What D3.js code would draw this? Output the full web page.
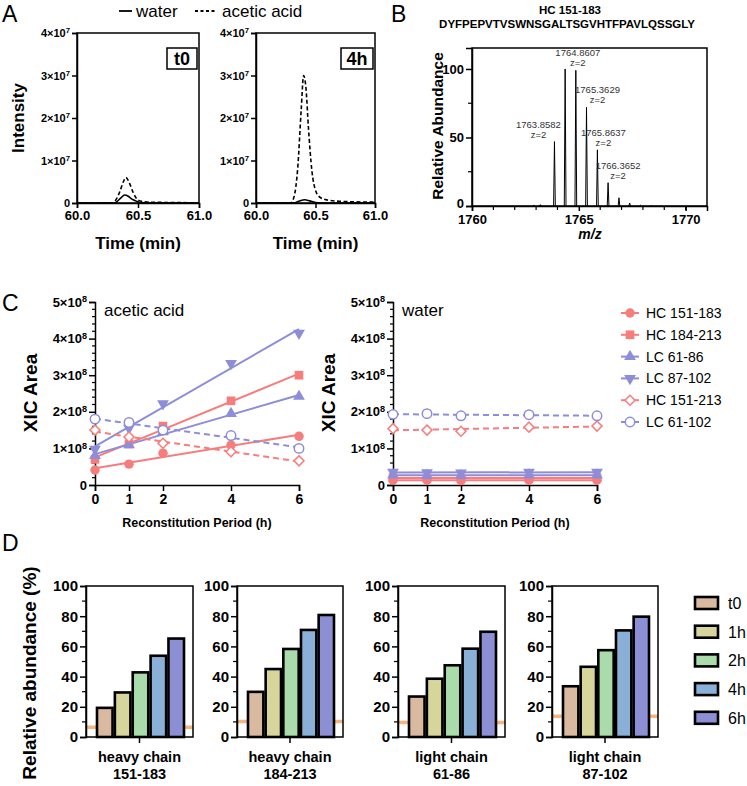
<!DOCTYPE html>
<html>
<head>
<meta charset="utf-8">
<script src="https://cdn.jsdelivr.net/npm/d3@7"></script>
<style>
  body { margin: 0; background: #fff; }
  svg { font-family: "Liberation Sans", Arial, sans-serif; }
</style>
</head>
<body>
<svg id="fig" width="747" height="786"></svg>
<script>
// ---------- data ----------
// panel A: chromatogram traces, [time (min), intensity x1e6]
const t0Water = [[60.0,0],[60.30,0],[60.33,0.4],[60.36,1.2],[60.39,1.9],[60.42,1.6],[60.45,0.9],[60.48,0.5],[60.52,0.1],[60.6,0],[61.0,0]];
const t0Acetic = [[60.0,0],[60.29,0],[60.32,0.8],[60.35,2.6],[60.38,5.0],[60.40,6.0],[60.43,4.7],[60.46,2.5],[60.49,1.0],[60.53,0.4],[60.6,0.2],[60.8,0.1],[61.0,0.05]];
const h4Water = [[60.0,0],[60.32,0],[60.36,0.4],[60.41,0.75],[60.45,0.5],[60.5,0.1],[60.55,0],[61.0,0]];
const h4Acetic = [[60.0,0],[60.29,0],[60.32,1.5],[60.35,8],[60.38,22],[60.40,30],[60.42,27],[60.44,18],[60.47,7.5],[60.50,3],[60.54,1.3],[60.6,0.7],[60.7,0.4],[60.8,0.3],[61.0,0.2]];

// panel B: isotope peaks
const peakMz = [1762.9, 1763.2, 1763.86, 1764.36, 1764.86, 1765.36, 1765.87, 1766.37, 1766.88, 1767.38, 1767.88, 1768.4];
const peakAbund = [0.4, 1, 47, 100, 99, 72, 41, 17, 6, 2.2, 0.6, 0.3];
const peakNames = ["1763.8582", "1764.8607", "1765.3629", "1765.8637", "1766.3652"];
const peakNamed = [2, 4, 5, 6, 7]; // which peaks carry a label
const labelDx = [-16, 2, 11, 6, 10];

// panel C: XIC area x1e8
const hours = [0, 1, 2, 4, 6];
const peptides = ["HC 151-183", "HC 184-213", "LC 61-86", "LC 87-102", "HC 151-213", "LC 61-102"];
const aceticHC151 = [0.41, 0.57, 0.87, 1.09, 1.33];
const aceticHC184 = [0.70, 1.12, 1.61, 2.30, 3.00];
const aceticLC61 = [0.80, 1.10, 1.45, 1.95, 2.42];
const aceticLC87 = [0.98, 1.55, 2.22, 3.32, 4.15];
const aceticHC151_213 = [1.50, 1.31, 1.14, 0.91, 0.66];
const aceticLC61_102 = [1.80, 1.71, 1.50, 1.35, 1.00];
const waterHC151 = [0.13, 0.13, 0.12, 0.13, 0.13];
const waterHC184 = [0.20, 0.19, 0.18, 0.19, 0.20];
const waterLC61 = [0.27, 0.26, 0.26, 0.27, 0.27];
const waterLC87 = [0.35, 0.34, 0.33, 0.35, 0.35];
const waterHC151_213 = [1.54, 1.50, 1.47, 1.58, 1.61];
const waterLC61_102 = [1.93, 1.95, 1.89, 1.92, 1.89];

// panel D: relative abundance (%)
const timepoints = ["t0", "1h", "2h", "4h", "6h"];
const regionNames = [["heavy chain", "151-183"], ["heavy chain", "184-213"], ["light chain", "61-86"], ["light chain", "87-102"]];
const relHC151 = [19.3, 29.5, 42.8, 53.8, 65.2];
const relHC184 = [29.9, 45.0, 58.3, 70.9, 80.8];
const relLC61 = [26.8, 38.6, 47.5, 58.5, 69.7];
const relLC87 = [33.6, 46.5, 57.5, 70.6, 79.7];
const controlLevel = [6.5, 10.2, 9.6, 13.8];

// ---------- drawing ----------
const svg = d3.select("#fig");
const RED = "#f77d7d", BLUE = "#8d8dd9", ORANGE = "#f8b47c";
const barColors = ["#d9b9a0", "#d6d59b", "#a9dcaa", "#8bb0d7", "#8c8fd3"];

function styleAxis(g, size) {
  g.selectAll("path, line").attr("stroke", "#000").attr("stroke-width", 1.5);
  g.selectAll("text").attr("fill", "#000").attr("font-weight", "bold").attr("font-size", size);
}

function sciLabels(g, exp) {
  g.selectAll(".tick text").each(function (d) {
    const t = d3.select(this);
    t.text(null);
    if (d === 0) { t.text("0"); return; }
    t.append("tspan").text(Math.round(d / Math.pow(10, exp)) + "×10");
    t.append("tspan").attr("dy", "-0.5em").attr("font-size", "0.7em").text(exp);
  });
}

function minorTicks(g, scale, values, len, vertical) {
  g.selectAll(null).data(values).join("line")
    .attr("x1", d => vertical ? 0 : scale(d)).attr("x2", d => vertical ? -len : scale(d))
    .attr("y1", d => vertical ? scale(d) : 0).attr("y2", d => vertical ? scale(d) : len)
    .attr("stroke", "#000").attr("stroke-width", 1.2);
}

function panelLetter(t, x, y) {
  svg.append("text").attr("x", x).attr("y", y).attr("font-size", 23).text(t);
}

// ----- Panel A -----
panelLetter("A", 2, 22);
const legA = svg.append("g");
legA.append("line").attr("x1", 119).attr("x2", 132).attr("y1", 11).attr("y2", 11).attr("stroke", "#000").attr("stroke-width", 1.8);
legA.append("text").attr("x", 136).attr("y", 17).attr("font-size", 17).text("water");
legA.append("line").attr("x1", 195).attr("x2", 215).attr("y1", 11).attr("y2", 11).attr("stroke", "#000").attr("stroke-width", 1.8).attr("stroke-dasharray", "3,2.5");
legA.append("text").attr("x", 222).attr("y", 17).attr("font-size", 17).text("acetic acid");

const yA = d3.scaleLinear().domain([0, 4e7]).range([203, 33]);
[[77, 199, t0Water, t0Acetic, "t0"], [256, 375, h4Water, h4Acetic, "4h"]].forEach(([x0, x1, wat, ace, tag]) => {
  const x = d3.scaleLinear().domain([60, 61]).range([x0, x1]);
  const line = d3.line().x(d => x(d[0])).y(d => yA(d[1] * 1e6)).curve(d3.curveMonotoneX);
  svg.append("path").attr("d", line(ace)).attr("fill", "none").attr("stroke", "#000").attr("stroke-width", 1.6).attr("stroke-dasharray", "4,2.5");
  svg.append("path").attr("d", line(wat)).attr("fill", "none").attr("stroke", "#000").attr("stroke-width", 1.6);
  svg.append("rect").attr("x", x0).attr("y", 33).attr("width", x1 - x0).attr("height", 170)
    .attr("fill", "none").attr("stroke", "#000").attr("stroke-width", 1.5);
  const gy = svg.append("g").attr("transform", `translate(${x0},0)`)
    .call(d3.axisLeft(yA).tickValues([0, 1e7, 2e7, 3e7, 4e7]).tickSize(5).tickPadding(2));
  styleAxis(gy, 11); sciLabels(gy, 7);
  const gx = svg.append("g").attr("transform", "translate(0,203)")
    .call(d3.axisBottom(x).tickValues([60, 60.5, 61]).tickFormat(d3.format(".1f")).tickSize(5).tickPadding(3));
  styleAxis(gx, 13);
  svg.append("text").attr("x", (x0 + x1) / 2).attr("y", 249).attr("text-anchor", "middle")
    .attr("font-size", 17).attr("font-weight", "bold").text("Time (min)");
  const bw = tag === "t0" ? 30 : 32;
  svg.append("rect").attr("x", x1 - 2 - bw).attr("y", 48).attr("width", bw).attr("height", 21)
    .attr("fill", "#fff").attr("stroke", "#000").attr("stroke-width", 1.5);
  svg.append("text").attr("x", x1 - 2 - bw / 2).attr("y", 65).attr("text-anchor", "middle")
    .attr("font-size", 18).attr("font-weight", "bold").text(tag);
});
svg.append("text").attr("transform", "translate(24,118) rotate(-90)").attr("text-anchor", "middle")
  .attr("font-size", 17).attr("font-weight", "bold").text("Intensity");

// ----- Panel B -----
panelLetter("B", 391, 22);
svg.append("text").attr("x", 570).attr("y", 14).attr("text-anchor", "middle").attr("font-size", 11.5).attr("font-weight", "bold").text("HC 151-183");
svg.append("text").attr("x", 567).attr("y", 28).attr("text-anchor", "middle").attr("font-size", 11.5).attr("font-weight", "bold").text("DYFPEPVTVSWNSGALTSGVHTFPAVLQSSGLY");
const xB = d3.scaleLinear().domain([1760, 1771]).range([472, 707]);
const yB = d3.scaleLinear().domain([0, 115.3]).range([206, 48]);
svg.append("g").selectAll("path").data(peakMz).join("path")
  .attr("d", (m, i) => `M${xB(m - 0.04)},${yB(0)}L${xB(m)},${yB(peakAbund[i])}L${xB(m + 0.04)},${yB(0)}`)
  .attr("fill", "none").attr("stroke", "#000").attr("stroke-width", 1);
peakNamed.forEach((pi, k) => {
  const px = xB(peakMz[pi]) + labelDx[k], py = yB(peakAbund[pi]) - 4;
  svg.append("text").attr("x", px).attr("y", py - 10).attr("text-anchor", "middle").attr("font-size", 9.5).attr("fill", "#333").text(peakNames[k]);
  svg.append("text").attr("x", px).attr("y", py).attr("text-anchor", "middle").attr("font-size", 9.5).attr("fill", "#333").text("z=2");
});
svg.append("rect").attr("x", 472).attr("y", 48).attr("width", 235).attr("height", 158)
  .attr("fill", "none").attr("stroke", "#000").attr("stroke-width", 1.5);
const gyB = svg.append("g").attr("transform", "translate(472,0)")
  .call(d3.axisLeft(yB).tickValues([0, 50, 100]).tickSize(6).tickPadding(2));
styleAxis(gyB, 13);
gyB.selectAll(".tick text").filter(d => d === 0).attr("dy", "0.1em");
minorTicks(gyB, yB, [25, 75], 4, true);
const gxB = svg.append("g").attr("transform", "translate(0,206)")
  .call(d3.axisBottom(xB).tickValues([1760, 1765, 1770]).tickFormat(d3.format("d")).tickSize(5).tickPadding(4));
styleAxis(gxB, 13);
minorTicks(gxB, xB, d3.range(1761, 1771).filter(v => v !== 1765), 4, false);
svg.append("text").attr("x", 590).attr("y", 239).attr("text-anchor", "middle").attr("font-size", 14)
  .attr("font-weight", "bold").attr("font-style", "italic").text("m/z");
svg.append("text").attr("transform", "translate(443,126) rotate(-90)").attr("text-anchor", "middle")
  .attr("font-size", 15.5).attr("font-weight", "bold").text("Relative Abundance");

// ----- Panel C -----
panelLetter("C", 2, 311);
const yC = d3.scaleLinear().domain([0, 5e8]).range([485, 302]);
const symbols = [d3.symbolCircle, d3.symbolSquare, d3.symbolTriangle, d3.symbolTriangle, d3.symbolSquare, d3.symbolCircle];
const symRot = [0, 0, 0, 180, 45, 0];
const symSize = [70, 75, 60, 60, 50, 70];
const seriesColor = [RED, RED, BLUE, BLUE, RED, BLUE];
const seriesOpen = [false, false, false, false, true, true];

function regress(xs, ys) {
  const mx = d3.mean(xs), my = d3.mean(ys);
  const b = d3.sum(xs, (x, i) => (x - mx) * (ys[i] - my)) / d3.sum(xs, x => (x - mx) * (x - mx));
  return [my - b * mx, b];
}

[[95, 299, "acetic acid", [aceticHC151, aceticHC184, aceticLC61, aceticLC87, aceticHC151_213, aceticLC61_102]],
 [393, 597, "water", [waterHC151, waterHC184, waterLC61, waterLC87, waterHC151_213, waterLC61_102]]]
.forEach(([x0, x1, title, sets]) => {
  const x = d3.scaleLinear().domain([0, 6]).range([x0, x1]);
  const gy = svg.append("g").attr("transform", `translate(${x0},0)`)
    .call(d3.axisLeft(yC).tickValues([0, 1e8, 2e8, 3e8, 4e8, 5e8]).tickSize(6).tickPadding(2));
  styleAxis(gy, 13); sciLabels(gy, 8);
  minorTicks(gy, yC, d3.range(0, 50).filter(v => v % 10 !== 0).filter(v => v % 2 === 0).map(v => v * 1e7), 3, true);
  const gx = svg.append("g").attr("transform", "translate(0,485)")
    .call(d3.axisBottom(x).tickValues(hours).tickFormat(d3.format("d")).tickSize(6).tickPadding(3));
  styleAxis(gx, 14);
  svg.append("text").attr("x", (x0 + x1) / 2).attr("y", 527).attr("text-anchor", "middle")
    .attr("font-size", 12.5).attr("font-weight", "bold").text("Reconstitution Period (h)");
  svg.append("text").attr("x", x0 + 9).attr("y", 316).attr("font-size", 17).text(title);
  svg.append("text").attr("transform", `translate(${x0 - 58},393) rotate(-90)`).attr("text-anchor", "middle")
    .attr("font-size", 19).attr("font-weight", "bold").text("XIC Area");
  // fit lines then markers
  sets.forEach((vals, s) => {
    const [a, b] = regress(hours, vals);
    svg.append("line").attr("x1", x(0)).attr("x2", x(6))
      .attr("y1", yC((a) * 1e8)).attr("y2", yC((a + b * 6) * 1e8))
      .attr("stroke", seriesColor[s]).attr("stroke-width", 2)
      .attr("stroke-dasharray", seriesOpen[s] ? "6,4" : null);
  });
  sets.forEach((vals, s) => {
    svg.append("g").selectAll("path").data(vals).join("path")
      .attr("d", d3.symbol(symbols[s], symSize[s]))
      .attr("transform", (v, i) => `translate(${x(hours[i])},${yC(v * 1e8)}) rotate(${symRot[s]})`)
      .attr("fill", seriesOpen[s] ? "#fff" : seriesColor[s])
      .attr("stroke", seriesColor[s]).attr("stroke-width", seriesOpen[s] ? 1.5 : 0);
  });
});
// legend C
peptides.forEach((p, s) => {
  const cy = 313 + s * 21.8;
  const g = svg.append("g").attr("transform", `translate(630,${cy})`);
  g.append("line").attr("x1", -9).attr("x2", 9).attr("stroke", seriesColor[s]).attr("stroke-width", 2);
  g.append("path").attr("d", d3.symbol(symbols[s], symSize[s]))
    .attr("transform", `rotate(${symRot[s]})`)
    .attr("fill", seriesOpen[s] ? "#fff" : seriesColor[s])
    .attr("stroke", seriesColor[s]).attr("stroke-width", seriesOpen[s] ? 1.5 : 0);
  svg.append("text").attr("x", 646).attr("y", cy + 5).attr("font-size", 14).text(p);
});

// ----- Panel D -----
panelLetter("D", 2, 551);
const yD = d3.scaleLinear().domain([0, 100]).range([737, 586]);
const regionVals = [relHC151, relHC184, relLC61, relLC87];
const chartX = [[86, 193], [237, 343], [398, 505], [552, 658]];
chartX.forEach(([x0, x1], c) => {
  const xb = d3.scaleBand().domain(timepoints).range([x0 + 11, x1 - 9]).paddingInner(0.13);
  svg.append("line").attr("x1", x0).attr("x2", x1).attr("y1", yD(controlLevel[c])).attr("y2", yD(controlLevel[c]))
    .attr("stroke", ORANGE).attr("stroke-width", 3.5);
  svg.append("g").selectAll("rect").data(regionVals[c]).join("rect")
    .attr("x", (v, i) => xb(timepoints[i])).attr("width", xb.bandwidth())
    .attr("y", v => yD(v)).attr("height", v => yD(0) - yD(v))
    .attr("fill", (v, i) => barColors[i]).attr("stroke", "#000").attr("stroke-width", 2.6);
  svg.append("rect").attr("x", x0).attr("y", 586).attr("width", x1 - x0).attr("height", 151)
    .attr("fill", "none").attr("stroke", "#000").attr("stroke-width", 1.5);
  const gy = svg.append("g").attr("transform", `translate(${x0},0)`)
    .call(d3.axisLeft(yD).tickValues([0, 20, 40, 60, 80, 100]).tickSize(6).tickPadding(2));
  styleAxis(gy, 15);
  minorTicks(gy, yD, [10, 30, 50, 70, 90], 4, true);
  const mid = (x0 + x1) / 2;
  svg.append("line").attr("x1", mid).attr("x2", mid).attr("y1", 737).attr("y2", 743).attr("stroke", "#000").attr("stroke-width", 1.5);
  svg.append("text").attr("x", mid).attr("y", 762).attr("text-anchor", "middle").attr("font-size", 14.5).attr("font-weight", "bold").text(regionNames[c][0]);
  svg.append("text").attr("x", mid).attr("y", 779).attr("text-anchor", "middle").attr("font-size", 14.5).attr("font-weight", "bold").text(regionNames[c][1]);
});
svg.append("text").attr("transform", "translate(36,673) rotate(-90)").attr("text-anchor", "middle")
  .attr("font-size", 19).attr("font-weight", "bold").text("Relative abundance (%)");
timepoints.forEach((t, i) => {
  const cy = 603 + i * 28.7;
  svg.append("rect").attr("x", 695).attr("y", cy - 6).attr("width", 23).attr("height", 12)
    .attr("fill", barColors[i]).attr("stroke", "#000").attr("stroke-width", 2.6);
  svg.append("text").attr("x", 728).attr("y", cy + 6).attr("font-size", 16).text(t);
});
</script>
</body>
</html>
